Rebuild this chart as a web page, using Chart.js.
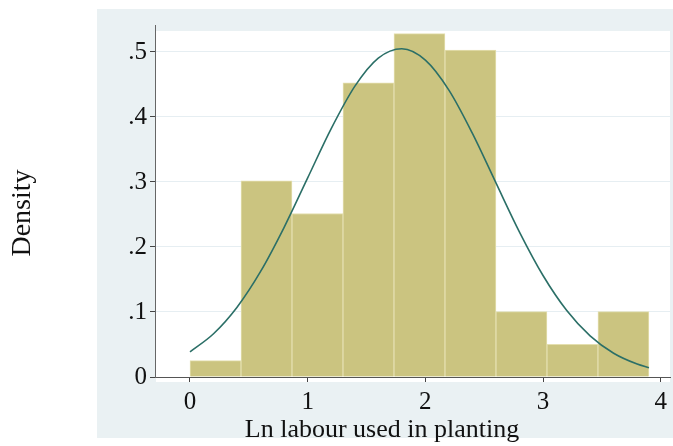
<!DOCTYPE html>
<html>
<head>
<meta charset="utf-8">
<script src="https://cdn.jsdelivr.net/npm/chart.js@4/dist/chart.umd.min.js"></script>
<style>
  html, body { margin: 0; padding: 0; background: #ffffff; }
  canvas { display: block; }
</style>
</head>
<body>
<canvas id="chart" width="673" height="446"></canvas>
<script>
// Histogram bins (centres) and their densities
const binCenters = [0.2167, 0.65, 1.0833, 1.5167, 1.95, 2.3833, 2.8167, 3.25, 3.6833];
const densities  = [0.0252, 0.3018, 0.2515, 0.4527, 0.5282, 0.5030, 0.1006, 0.0503, 0.1006];

// Normal density overlay
const curveX = [0, 0.2, 0.4, 0.6, 0.8, 1.0, 1.2, 1.4, 1.6, 1.8, 2.0, 2.2, 2.4, 2.6, 2.8, 3.0, 3.2, 3.4, 3.6, 3.8, 3.9];
const curveY = [0.0388, 0.0666, 0.1074, 0.1624, 0.2303, 0.3063, 0.3821, 0.4471, 0.4906, 0.5050, 0.4875,
                0.4414, 0.3748, 0.2986, 0.2230, 0.1562, 0.1027, 0.0633, 0.0366, 0.0199, 0.0143];

// Axis ticks and titles
const xTickValues = [0, 1, 2, 3, 4];
const xTickLabels = ['0', '1', '2', '3', '4'];
const yTickValues = [0, 0.1, 0.2, 0.3, 0.4, 0.5];
const yTickLabels = ['0', '.1', '.2', '.3', '.4', '.5'];
const xTitle = 'Ln labour used in planting';
const yTitle = 'Density';

const SERIF = '"Liberation Serif", "DejaVu Serif", serif';

const barData = binCenters.map((x, i) => ({ x: x, y: densities[i] }));
const curveData = curveX.map((x, i) => ({ x: x, y: curveY[i] }));

// Panel background, white plot region and axis titles
const backdrop = {
  id: 'backdrop',
  beforeDraw(chart) {
    const { ctx, chartArea: a } = chart;
    ctx.save();
    ctx.fillStyle = '#ffffff';
    ctx.fillRect(0, 0, chart.width, chart.height);
    ctx.fillStyle = '#eaf1f3';
    ctx.fillRect(97, 9, chart.width - 97, 429);
    ctx.fillStyle = '#ffffff';
    ctx.fillRect(a.left + 1, a.top + 6, a.right - a.left - 1, a.bottom - a.top - 1);
    ctx.restore();
  },
  afterDraw(chart) {
    const ctx = chart.ctx;
    ctx.save();
    ctx.fillStyle = '#111111';
    ctx.textAlign = 'center';
    ctx.textBaseline = 'alphabetic';
    ctx.font = '26px ' + SERIF;
    ctx.fillText(xTitle, 382, 437);
    ctx.translate(30, 213);
    ctx.rotate(-Math.PI / 2);
    ctx.font = '28px ' + SERIF;
    ctx.fillText(yTitle, 0, 0);
    ctx.restore();
  }
};

new Chart(document.getElementById('chart'), {
  type: 'bar',
  data: {
    datasets: [
      {
        type: 'line',
        data: curveData,
        borderColor: '#2b6f67',
        borderWidth: 1.6,
        pointRadius: 0,
        fill: false,
        cubicInterpolationMode: 'monotone',
        order: 0
      },
      {
        type: 'bar',
        data: barData,
        backgroundColor: '#cbc480',
        borderColor: '#e4dfaf',
        borderWidth: 1,
        barPercentage: 1,
        categoryPercentage: 1,
        order: 1
      }
    ]
  },
  options: {
    responsive: false,
    animation: false,
    devicePixelRatio: 1,
    layout: { padding: { top: 25, right: 3, left: 0, bottom: 0 } },
    plugins: {
      legend: { display: false },
      tooltip: { enabled: false }
    },
    scales: {
      x: {
        type: 'linear',
        offset: false,
        min: -0.2974,
        max: 4.079,
        afterBuildTicks(scale) { scale.ticks = xTickValues.map(v => ({ value: v })); },
        afterFit(scale) { scale.height = 69; },
        ticks: {
          color: '#111111',
          font: { family: SERIF, size: 25 },
          padding: 5,
          maxRotation: 0,
          autoSkip: false,
          callback: (v) => xTickLabels[xTickValues.indexOf(v)]
        },
        grid: {
          offset: false,
          drawOnChartArea: false,
          drawTicks: true,
          tickLength: 5,
          tickColor: '#444444'
        },
        border: { display: true, color: '#555555', width: 1 }
      },
      y: {
        type: 'linear',
        min: 0,
        max: 0.5415,
        afterBuildTicks(scale) { scale.ticks = yTickValues.map(v => ({ value: v })); },
        afterFit(scale) { scale.width = 155; },
        ticks: {
          color: '#111111',
          font: { family: SERIF, size: 25 },
          padding: 3,
          autoSkip: false,
          callback: (v) => yTickLabels[yTickValues.indexOf(v)]
        },
        grid: {
          offset: false,
          drawTicks: true,
          tickLength: 5,
          tickColor: '#444444',
          color: (c) => (c.tick && c.tick.value === 0 ? 'rgba(0,0,0,0)' : '#e6eef2'),
          lineWidth: 1
        },
        border: { display: true, color: '#666666', width: 1 }
      }
    }
  },
  plugins: [backdrop]
});
</script>
</body>
</html>
